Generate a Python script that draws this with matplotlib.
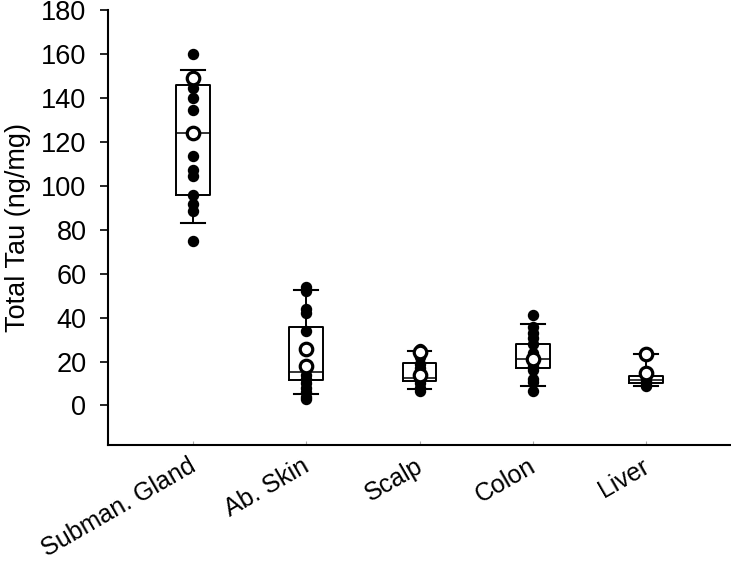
import matplotlib
matplotlib.use("Agg")
import matplotlib.pyplot as plt
import numpy as np

categories = ["Subman. Gland", "Ab. Skin", "Scalp", "Colon", "Liver"]

# individual filled points
gland_pts = [160, 144.5, 140, 134.5, 113.5, 107, 104.5, 96, 91.5, 88.5, 75]
skin_pts = [54, 52, 44, 42, 34, 14, 12, 10, 8, 6, 4, 3]
scalp_pts = [25.5, 22, 19, 17, 15, 12, 10, 8, 6.5]
colon_pts = [41, 35.5, 33, 30.5, 28, 24, 18, 16, 12, 10.5, 6.5]
liver_pts = [13, 11.5, 10.5, 9.5, 9]

# individual open points
gland_open = [149, 124]
skin_open = [25.5, 18]
scalp_open = [24.2, 14]
colon_open = [21]
liver_open = [23.6, 15]

# box statistics
q1 = [95.9, 11.8, 11.0, 17.1, 10.0]
med = [124.2, 15.1, 12.6, 21.0, 11.8]
q3 = [145.9, 35.8, 19.4, 28.2, 13.6]
whislo = [83.0, 5.0, 7.3, 9.0, 9.0]
whishi = [152.7, 52.4, 24.7, 37.3, 23.6]

filled = [gland_pts, skin_pts, scalp_pts, colon_pts, liver_pts]
opened = [gland_open, skin_open, scalp_open, colon_open, liver_open]

plt.rcParams['font.family'] = ['Liberation Sans', 'DejaVu Sans']

fig = plt.figure(figsize=(7.31, 5.64), dpi=100)
ax = fig.add_axes([108/731, 1-445/564, 1-108/731, (445-10)/564])

positions = np.arange(1, len(categories) + 1)
stats = []
for i in range(len(categories)):
    stats.append(dict(q1=q1[i], med=med[i], q3=q3[i], whislo=whislo[i],
                      whishi=whishi[i], fliers=[], label=categories[i]))

ax.bxp(stats, positions=positions, widths=0.30, showfliers=False,
       boxprops=dict(color='black', linewidth=1.4),
       medianprops=dict(color='black', linewidth=1.1),
       whiskerprops=dict(color='black', linewidth=1.4),
       capprops=dict(color='black', linewidth=1.5),
       capwidths=0.21, zorder=2)

for p, pts in zip(positions, filled):
    ax.plot(np.full(len(pts), p), pts, 'o', color='black', markersize=7.2,
            linestyle='none', zorder=3)
for p, pts in zip(positions, opened):
    ax.plot(np.full(len(pts), p), pts, 'o', markerfacecolor='white',
            markeredgecolor='black', markersize=9, markeredgewidth=2.3,
            linestyle='none', zorder=4)

ax.set_xlim(0.25, 5.75)
ax.set_ylim(-18, 180)
ax.set_yticks(np.arange(0, 181, 20))
ax.set_xticks(positions)
ax.set_xticklabels([])
for p, cat in zip(positions, categories):
    ax.annotate(cat, xy=(p, 0), xycoords=('data', 'axes fraction'),
                xytext=(7, -9), textcoords='offset pixels',
                rotation=30, ha='right', va='top', fontsize=18,
                annotation_clip=False)
ax.tick_params(axis='y', direction='out', length=6, width=1.2, pad=9.5,
               labelsize=19.5)
ax.tick_params(axis='x', direction='in', length=3, width=0.8, color='#aaaaaa')
ax.set_ylabel("Total Tau (ng/mg)", fontsize=19.5, labelpad=7)

for s in ['top', 'right']:
    ax.spines[s].set_visible(False)
for s in ['left', 'bottom']:
    ax.spines[s].set_linewidth(1.5)

fig.savefig("out.png", dpi=100)
